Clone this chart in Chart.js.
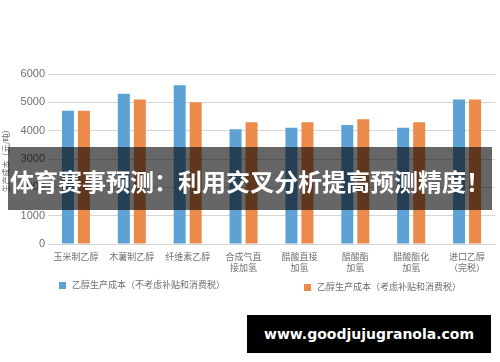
<!DOCTYPE html>
<html>
<head>
<meta charset="utf-8">
<script src="https://cdn.jsdelivr.net/npm/chart.js@4/dist/chart.umd.min.js"></script>
<style>
    html, body { margin: 0; padding: 0; background: #fff; }
    #wrap { position: relative; width: 500px; height: 362px; overflow: hidden; }
    #chart { position: absolute; left: 0; top: 0; }
    .legend-item {
        position: absolute;
        font: 9px "Noto Sans CJK SC", sans-serif;
        color: #6f6f6f;
        white-space: nowrap;
        line-height: 10px;
    }
    .legend-item i {
        display: inline-block;
        width: 7px; height: 7px;
        margin-right: 6px;
        vertical-align: -1px;
    }
    #banner {
        position: absolute;
        left: 8px; top: 147px; width: 484px; height: 63px;
        background: rgba(0, 0, 0, 0.6);
    }
    #banner span {
        position: absolute;
        left: -10px; right: -10px; top: 21px;
        text-align: center;
        font: bold 24px "Noto Sans CJK SC", sans-serif;
        line-height: 26px;
        color: #fff;
        white-space: nowrap;
    }
    #mark {
        position: absolute;
        left: 247px; top: 315px; width: 244px; height: 38px;
        background: #000;
        color: #fff;
        font: bold 14px "DejaVu Sans", sans-serif;
        line-height: 38px;
        text-align: center;
    }
</style>
</head>
<body>
<div id="wrap">
    <canvas id="chart" width="500" height="362"></canvas>
    <div id="banner"><span>体育赛事预测：利用交叉分析提高预测精度！</span></div>
    <div id="mark">www.goodjujugranola.com</div>
</div>
<script>
// chart values
const categories = [
    ['玉米制乙醇'], ['木薯制乙醇'], ['纤维素乙醇'],
    ['合成气直', '接加氢'], ['醋酸直接', '加氢'], ['醋酸酯', '加氢'],
    ['醋酸酯化', '加氢'], ['进口乙醇', '（完税）']
];
const seriesNames = ['乙醇生产成本（不考虑补贴和消费税）', '乙醇生产成本（考虑补贴和消费税）'];
const costNoSubsidy = [4700, 5300, 5600, 4050, 4100, 4200, 4100, 5100];
const costWithSubsidy = [4700, 5100, 5000, 4300, 4300, 4400, 4300, 5100];
const yTitle = '生产成本（元/吨）';
const yMin = 0, yMax = 6000, yStep = 1000;

const BLUE = '#5ea1d5';
const ORANGE = '#ec8a4b';
const GRID = '#d6d6d6';

const ctx = document.getElementById('chart');

const chart = new Chart(ctx, {
    type: 'bar',
    data: {
        labels: categories,
        datasets: [
            {
                label: seriesNames[0],
                data: costNoSubsidy,
                backgroundColor: BLUE,
                categoryPercentage: 0.573,
                barPercentage: 0.75
            },
            {
                label: seriesNames[1],
                data: costWithSubsidy,
                backgroundColor: ORANGE,
                categoryPercentage: 0.573,
                barPercentage: 0.75
            }
        ]
    },
    options: {
        responsive: false,
        animation: false,
        layout: {
            padding: { top: 74, right: 5, bottom: 78, left: 0 }
        },
        plugins: {
            legend: { display: false },
            tooltip: { enabled: false }
        },
        scales: {
            x: {
                grid: { display: false, drawTicks: false },
                border: { display: true, color: GRID, width: 1 },
                ticks: {
                    padding: 7,
                    color: '#707070',
                    font: { family: '"Noto Sans CJK SC", sans-serif', size: 9 },
                    maxRotation: 0,
                    autoSkip: false
                },
                afterFit: function(scale) {
                    scale.height = 40;
                }
            },
            y: {
                min: yMin,
                max: yMax,
                grid: { color: GRID, lineWidth: 1, drawTicks: false },
                border: { display: false },
                ticks: {
                    stepSize: yStep,
                    padding: 3,
                    color: '#6f6f6f',
                    font: { family: '"Liberation Sans", Arial, sans-serif', size: 11 },
                    callback: function(value) {
                        return String(value);
                    }
                },
                title: {
                    display: true,
                    text: yTitle,
                    color: '#6f6f6f',
                    font: { family: '"Noto Sans CJK SC", sans-serif', size: 8 },
                    padding: { top: 1, bottom: 0 }
                },
                afterFit: function(scale) {
                    scale.width = 48;
                }
            }
        }
    }
});

// html legend built from the datasets
const legendSpots = [{ left: 59, top: 280 }, { left: 304, top: 282 }];
chart.data.datasets.forEach((ds, i) => {
    const item = document.createElement('div');
    item.className = 'legend-item';
    item.style.left = legendSpots[i].left + 'px';
    item.style.top = legendSpots[i].top + 'px';
    item.innerHTML = '<i style="background:' + ds.backgroundColor + '"></i>' + ds.label;
    document.getElementById('wrap').insertBefore(item, document.getElementById('banner'));
});
</script>
</body>
</html>
